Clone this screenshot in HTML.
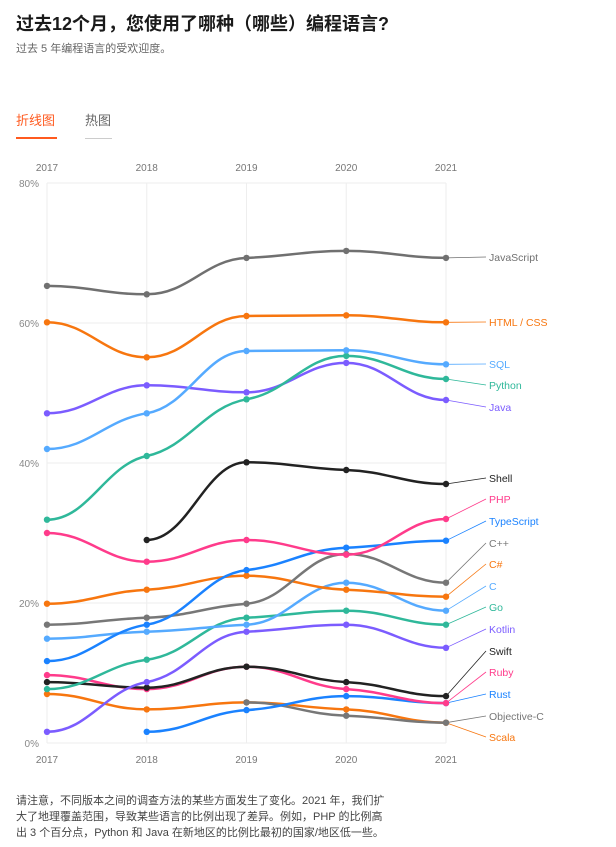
<!DOCTYPE html>
<html><head><meta charset="utf-8">
<style>
body{margin:0;width:616px;height:847px;background:#fff;font-family:"Liberation Sans","Noto Sans CJK SC",sans-serif;position:relative;overflow:hidden}
.a{position:absolute;white-space:nowrap}
</style></head><body>
<div class="a" style="left:16px;top:10px;font-size:18px;font-weight:bold;color:#1a1a1a">过去12个月，您使用了哪种（哪些）编程语言?</div>
<div class="a" style="left:16px;top:40px;font-size:11px;color:#666">过去 5 年编程语言的受欢迎度。</div>
<div class="a" style="left:16px;top:110px;font-size:13px;color:#ff5a1f">折线图</div>
<div class="a" style="left:16px;top:137px;width:41px;height:2px;background:#ff5a1f"></div>
<div class="a" style="left:85px;top:110px;font-size:13px;color:#666">热图</div>
<div class="a" style="left:85px;top:138px;width:27px;height:1px;background:#ccc"></div>
<svg id="chart" class="a" style="left:0;top:0" width="616" height="847"></svg>
<div class="a" style="left:16px;top:793px;font-size:11px;line-height:16px;color:#444">请注意，不同版本之间的调查方法的某些方面发生了变化。2021 年，我们扩<br>大了地理覆盖范围，导致某些语言的比例出现了差异。例如，PHP 的比例高<br>出 3 个百分点，Python 和 Java 在新地区的比例比最初的国家/地区低一些。</div>
<script>
const years=[2017,2018,2019,2020,2021];
const yTicks=[0,20,40,60,80];
const names=["JavaScript","HTML / CSS","SQL","Python","Java","Shell","PHP","TypeScript","C++","C#","C","Go","Kotlin","Swift","Ruby","Rust","Objective-C","Scala"];
const colors=["#707070","#f7760f","#55aaff","#2fb89a","#7b5cff","#222222","#ff3b8b","#1a82ff","#777777","#f7760f","#55aaff","#2fb89a","#7b5cff","#222222","#ff3b8b","#1a82ff","#777777","#f7760f"];
const vJavaScript=[65.3,64.1,69.3,70.3,69.3];
const vHTML=[60.1,55.1,61,61.1,60.1];
const vSQL=[42,47.1,56,56.1,54.1];
const vPython=[31.9,41,49.1,55.3,52];
const vJava=[47.1,51.1,50.1,54.3,49];
const vShell=[null,29,40.1,39,37];
const vPHP=[30,25.9,29,26.9,32];
const vTypeScript=[11.7,16.9,24.7,27.9,28.9];
const vCpp=[16.9,17.9,19.9,27,22.9];
const vCsharp=[19.9,21.9,23.9,21.9,20.9];
const vC=[14.9,15.9,16.9,22.9,18.9];
const vGo=[7.7,11.9,17.9,18.9,16.9];
const vKotlin=[1.6,8.7,15.9,16.9,13.6];
const vSwift=[8.7,7.9,10.9,8.7,6.7];
const vRuby=[9.7,7.7,10.9,7.7,5.7];
const vRust=[null,1.6,4.7,6.7,5.7];
const vObjC=[null,null,5.8,3.9,2.9];
const vScala=[7,4.8,5.8,4.8,2.9];
const series=[vJavaScript,vHTML,vSQL,vPython,vJava,vShell,vPHP,vTypeScript,vCpp,vCsharp,vC,vGo,vKotlin,vSwift,vRuby,vRust,vObjC,vScala];
const x0=47,x1=446,yb=743,yt=183;
const X=i=>x0+(x1-x0)*(years[i]-years[0])/(years[years.length-1]-years[0]);
const Y=v=>yb-(yb-yt)*v/80;
const svg=document.getElementById('chart');const NS='http://www.w3.org/2000/svg';
function mk(t,a){const e=document.createElementNS(NS,t);for(const k in a)e.setAttribute(k,a[k]);svg.appendChild(e);return e;}
yTicks.forEach(t=>{
 const g=mk('line',{x1:x0,x2:x1,y1:Y(t),y2:Y(t),stroke:'#eee'});
 
 
 const l=mk('text',{x:39,y:Y(t)+4,'font-size':10,fill:'#888','text-anchor':'end'});l.textContent=t+'%';
 
 
});
years.forEach((yr,i)=>{
 const g=mk('line',{x1:X(i),x2:X(i),y1:yt,y2:yb,stroke:'#eee'});
 
 
 [171,763].forEach(yy=>{const l=mk('text',{x:X(i),y:yy,'font-size':10,fill:'#777','text-anchor':'middle'});l.textContent=yr;
 
 });
});
function mono(p){
 const n=p.length;if(n<2)return '';
 const d=[],m=[];
 for(let i=0;i<n-1;i++)d.push((p[i+1][1]-p[i][1])/(p[i+1][0]-p[i][0]));
 for(let i=0;i<n;i++){
  if(i==0||i==n-1)m.push(0);
  else m.push(d[i-1]*d[i]<=0?0:0.35*(2/(1/d[i-1]+1/d[i])));
 }
 let s='M'+p[0][0]+','+p[0][1];
 for(let i=0;i<n-1;i++){const h=(p[i+1][0]-p[i][0])/2.4;
  s+=' C'+(p[i][0]+h)+','+(p[i][1]+m[i]*h)+' '+(p[i+1][0]-h)+','+(p[i+1][1]-m[i+1]*h)+' '+p[i+1][0]+','+p[i+1][1];}
 return s;
}
const labelY=[257,322,364,385,407,478,499,521,543,564,586,607,629,651,672,694,716,737];
for(let k=series.length-1;k>=0;k--){
 const v=series[k];const pts=[];
 v.forEach((val,i)=>{if(val!=null)pts.push([X(i),Y(val)]);});
 const p=mk('path',{d:mono(pts),fill:'none',stroke:colors[k],'stroke-width':2.5});
 
 
 pts.forEach(pt=>{const c=mk('circle',{cx:pt[0],cy:pt[1],r:3.2,fill:colors[k]});
  
  });
 const last=pts[pts.length-1];
 const ll=mk('line',{x1:last[0],y1:last[1],x2:486,y2:labelY[k],stroke:colors[k],'stroke-width':0.8});
 
 
 const t=mk('text',{x:489,y:labelY[k]+4,'font-size':10.5,fill:colors[k]});t.textContent=names[k];
 
 
}
</script>
</body></html>
